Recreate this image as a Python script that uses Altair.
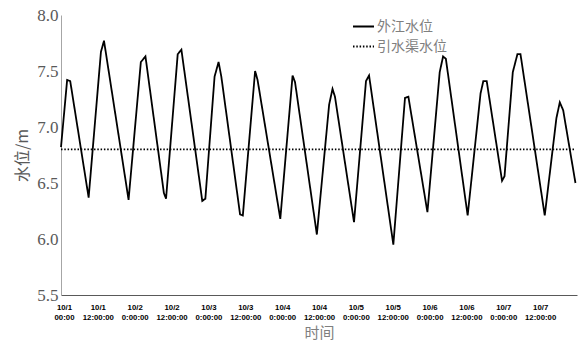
import altair as alt
import pandas as pd
import json

# Outer river level (外江水位): vertices (hours from 10/1 00:00, metres)
river_hours = [0, 2, 3, 9, 13, 14, 22, 26, 27.5, 33.5, 34.2, 38, 39.2, 46, 47, 50, 51.3, 52.2,
               58.3, 59.2, 63.2, 64, 71.4, 75.4, 76.2, 83.3, 87.3, 88.4, 89.2, 95.4, 99.3, 100.3,
               108.2, 112, 113.1, 119.3, 123.3, 124.4, 125.3, 132.4, 136.6, 137.5, 138.6, 143.6,
               144.4, 147.1, 148.6, 149.6, 157.5, 161.3, 162.4, 163.5, 167.5]
river_level = [6.82, 7.42, 7.41, 6.37, 7.67, 7.77, 6.35, 7.58, 7.63, 6.41, 6.36, 7.65, 7.69, 6.34,
               6.36, 7.45, 7.58, 7.45, 6.22, 6.21, 7.50, 7.42, 6.18, 7.46, 7.40, 6.04, 7.20, 7.34,
               7.27, 6.15, 7.41, 7.46, 5.95, 7.26, 7.27, 6.24, 7.49, 7.63, 7.61, 6.21, 7.30, 7.41,
               7.41, 6.52, 6.56, 7.49, 7.65, 7.65, 6.21, 7.08, 7.22, 7.15, 6.50]

# Canal level (引水渠水位): constant
canal_hours = [0, 167.5]
canal_level = [6.8, 6.8]

series_names = ["外江水位", "引水渠水位"]

tick_hours = [0, 12, 24, 36, 48, 60, 72, 84, 96, 108, 120, 132, 144, 156]
tick_top = ["10/1", "10/1", "10/2", "10/2", "10/3", "10/3", "10/4", "10/4", "10/5", "10/5",
            "10/6", "10/6", "10/7", "10/7"]
tick_bottom = ["00:00", "12:00:00", "0:00:00", "12:00:00", "0:00:00", "12:00:00", "0:00:00",
               "12:00:00", "0:00:00", "12:00:00", "0:00:00", "12:00:00", "0:00:00", "12:00:00"]
y_ticks = [5.5, 6.0, 6.5, 7.0, 7.5, 8.0]

df = pd.concat([
    pd.DataFrame({"h": river_hours, "v": river_level, "s": series_names[0]}),
    pd.DataFrame({"h": canal_hours, "v": canal_level, "s": series_names[1]}),
])

label_arr = json.dumps([[a, b] for a, b in zip(tick_top, tick_bottom)], ensure_ascii=False)
label_expr = f"{label_arr}[round(datum.value/12)]"

chart = alt.Chart(df).mark_line(color="black", strokeWidth=1.8).encode(
    x=alt.X("h:Q", scale=alt.Scale(domain=[0, 168], nice=False, zero=False),
            axis=alt.Axis(values=tick_hours, labelExpr=label_expr, title="时间",
                          ticks=False, grid=False, domainColor="#595959",
                          labelFont="Liberation Sans", labelFontWeight="bold", labelFontSize=7.8,
                          labelColor="#000000", labelLineHeight=10, labelPadding=8,
                          labelBaseline="top", labelOverlap=False, labelFlush=False,
                          labelOffset={"condition": {"test": "datum.value == 0", "value": 3},
                                       "value": 0},
                          titleFont="Noto Sans CJK SC", titleFontWeight="normal",
                          titleFontSize=15, titleColor="#7f7f7f", titlePadding=5)),
    y=alt.Y("v:Q", scale=alt.Scale(domain=[5.5, 8.0], nice=False, zero=False),
            axis=alt.Axis(values=y_ticks, format=".1f", title="水位/m",
                          ticks=False, grid=False, domainColor="#a6a6a6",
                          labelFont="Liberation Serif", labelFontSize=17, labelColor="#595959",
                          labelPadding=3,
                          titleFont="Noto Sans CJK SC", titleFontWeight="normal",
                          titleFontSize=16, titleColor="#595959", titlePadding=6)),
    strokeDash=alt.StrokeDash("s:N",
                              scale=alt.Scale(domain=series_names, range=[[1, 0], [1.5, 1.8]]),
                              legend=alt.Legend(title=None, orient="none", legendX=291, legendY=0,
                                                symbolType="stroke", symbolSize=441,
                                                symbolStrokeWidth=1.8, symbolStrokeColor="black",
                                                labelFont="Noto Sans CJK SC", labelFontSize=14,
                                                labelColor="#7f7f7f", labelOffset=2,
                                                rowPadding=1)),
    detail="s:N",
).properties(
    width=516, height=280,
    autosize=alt.AutoSizeParams(type="none"),
    padding={"left": 53, "top": 7, "right": 1, "bottom": 50},
).configure_view(stroke=None)

chart.save("out.html", embed_options={"renderer": "svg", "actions": False})
